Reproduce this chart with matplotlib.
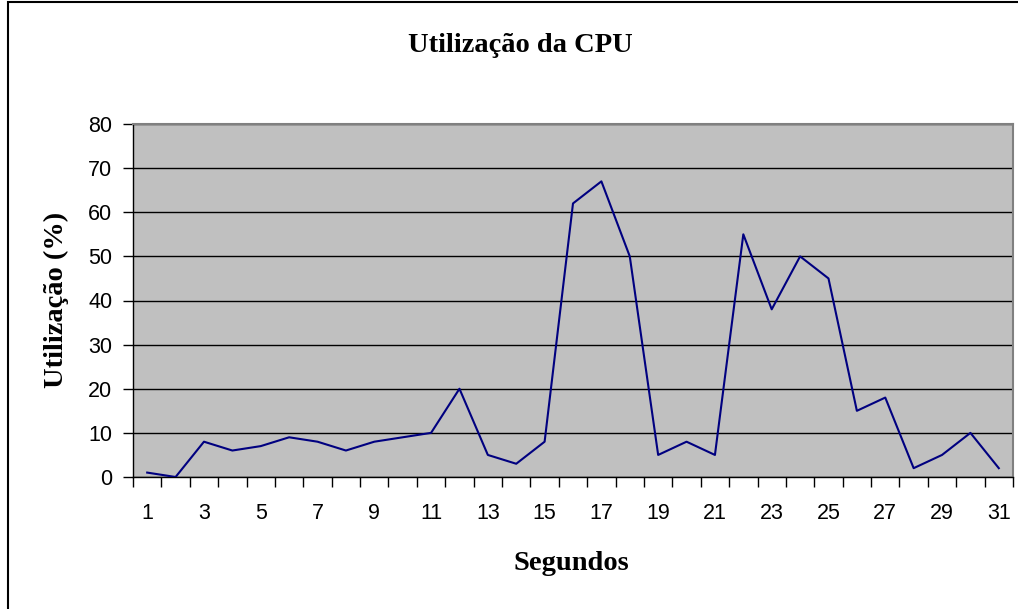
import matplotlib
matplotlib.use("Agg")
import matplotlib.pyplot as plt
from matplotlib.patches import Rectangle
import numpy as np

seconds = list(range(1, 32))
usage = [1, 0, 8, 6, 7, 9, 8, 6, 8, 9, 10, 20, 5, 3, 8, 62, 67, 50, 5, 8, 5,
         55, 38, 50, 45, 15, 18, 2, 5, 10, 2]
y_ticks = [0, 10, 20, 30, 40, 50, 60, 70, 80]
x_labels = [str(s) for s in seconds if s % 2 == 1]

W, H = 1018, 609
fig = plt.figure(figsize=(W / 100, H / 100), dpi=100)
fig.patch.set_facecolor("white")

# chart border (left and top visible)
fig.add_artist(Rectangle((8 / W, -0.05), 1.2, 1.05 - 1.5 / H, transform=fig.transFigure,
                         fill=False, edgecolor="black", linewidth=1.5))

ax = fig.add_axes([133 / W, 1 - 477 / H, (1013 - 133) / W, (477 - 124) / H])
ax.set_facecolor("#C0C0C0")
ax.plot(seconds, usage, color="#000080", linewidth=1.5, zorder=3)

ax.set_xlim(0.5, 31.5)
ax.set_ylim(0, 80)
ax.set_yticks(y_ticks)
ax.yaxis.grid(True, color="black", linewidth=1)
ax.set_axisbelow(True)

ax.set_xticks([int(l) for l in x_labels])
ax.set_xticklabels(x_labels)
ax.set_xticks(np.arange(0.5, 32, 1), minor=True)
ax.tick_params(axis="x", which="major", length=0, pad=19, labelsize=15.5)
ax.tick_params(axis="x", which="minor", length=7, width=1, direction="out", color="black")
ax.tick_params(axis="y", length=7, width=1, direction="out", pad=8, labelsize=15.5, color="black")

for s in ["top", "right"]:
    ax.spines[s].set_color("#808080")
    ax.spines[s].set_linewidth(1.5)
for s in ["left", "bottom"]:
    ax.spines[s].set_color("black")
    ax.spines[s].set_linewidth(1)

for lbl in ax.get_xticklabels() + ax.get_yticklabels():
    lbl.set_family(["Liberation Sans", "DejaVu Sans"])

serif = ["Liberation Serif", "DejaVu Serif"]
fig.text(520 / W, 1 - 46 / H, "Utilização da CPU", ha="center", va="center",
         family=serif, fontweight="bold", fontsize=20.5)
fig.text(571 / W, 1 - 563 / H, "Segundos", ha="center", va="center",
         family=serif, fontweight="bold", fontsize=20.5)
fig.text(56 / W, 1 - 300 / H, "Utilização (%)", ha="center", va="center", rotation=90,
         family=serif, fontweight="bold", fontsize=20.5)

fig.savefig("out.png", dpi=100)
